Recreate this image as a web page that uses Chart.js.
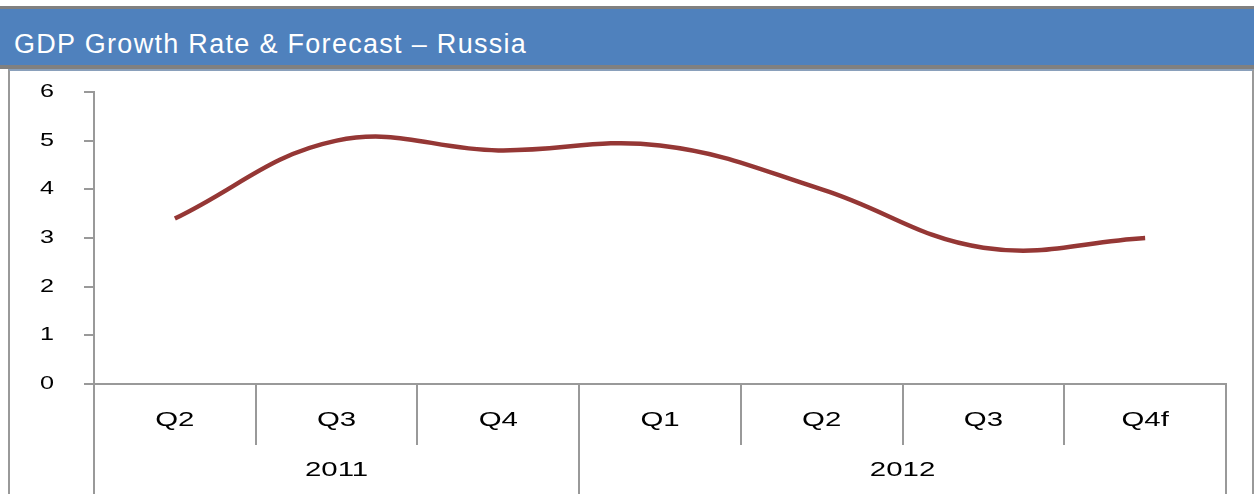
<!DOCTYPE html>
<html>
<head>
<meta charset="utf-8">
<script src="https://cdn.jsdelivr.net/npm/chart.js@4/dist/chart.umd.min.js"></script>
<style>
  body { margin: 0; background: #fff; font-family: "Liberation Sans", Arial, sans-serif; }
  #banner {
    position: absolute; left: 0; top: 6px; width: 1240px; height: 42px;
    background: #4f81bd; border-top: 3px solid #808080; border-bottom: 4px solid #808080;
    color: #fff; font-size: 27px; letter-spacing: 1.3px; line-height: 42px;
    padding: 14px 0 0 14px; box-sizing: content-box; white-space: nowrap;
  }
  #frame {
    position: absolute; left: 8px; top: 69px; width: 1242px; height: 430px;
    border-left: 2px solid #999; border-right: 2px solid #999; border-top: 2px solid #8aa0bb;
  }
  #wrap { position: absolute; left: 0; top: 0; width: 1242px; height: 423px; }
</style>
</head>
<body>
<div id="banner">GDP Growth Rate &amp; Forecast – Russia</div>
<div id="frame"><div id="wrap"><canvas id="chart"></canvas></div></div>
<script>
var quarters = ['Q2', 'Q3', 'Q4', 'Q1', 'Q2', 'Q3', 'Q4f'];
var years = ['2011', '2012'];
var quartersPerYear = [3, 4];
var gdpGrowth = [3.4, 5.0, 4.8, 4.9, 4.0, 2.8, 3.0];
var yTicks = [0, 1, 2, 3, 4, 5, 6];

var axisColor = '#999999';
var fontFamily = '"Liberation Sans", Arial, sans-serif';
var xFont = { family: fontFamily, size: 21 };
var yFont = { family: fontFamily, size: 18 };
var textStretch = 1.4;

// the labels in the original are drawn wide, so stretch every fillText sideways around its anchor
var wideText = {
    id: 'wideText',
    beforeInit: function(chart) {
        var ctx = chart.ctx;
        var fill = ctx.fillText;
        ctx.fillText = function(text, x, y) {
            this.save();
            this.translate(x, y);
            this.scale(textStretch, 1);
            fill.call(this, text, 0, 0);
            this.restore();
        };
    }
};

// draws the quarter dividers and the year row under the x axis
var yearRows = {
    id: 'yearRows',
    afterDraw: function(chart) {
        var ctx = chart.ctx;
        var x = chart.scales.x;
        var step = x.getPixelForValue(1) - x.getPixelForValue(0);
        var top = chart.chartArea.bottom;
        ctx.save();
        ctx.strokeStyle = axisColor;
        ctx.lineWidth = 2;
        var i;
        for (i = 0; i <= quarters.length; i++) {
            var px = Math.round(x.getPixelForValue(i) - step / 2);
            ctx.beginPath();
            ctx.moveTo(px, top);
            ctx.lineTo(px, top + 61);
            ctx.stroke();
        }
        var start = 0;
        ctx.fillStyle = '#000';
        ctx.font = xFont.size + 'px ' + xFont.family;
        ctx.textAlign = 'center';
        ctx.textBaseline = 'middle';
        for (i = 0; i < years.length; i++) {
            var end = start + quartersPerYear[i];
            var left = x.getPixelForValue(start) - step / 2;
            var right = x.getPixelForValue(end - 1) + step / 2;
            [left, right].forEach(function(px) {
                ctx.beginPath();
                ctx.moveTo(Math.round(px), top + 61);
                ctx.lineTo(Math.round(px), top + 110);
                ctx.stroke();
            });
            ctx.fillText(years[i], (left + right) / 2, top + 86);
            start = end;
        }
        ctx.restore();
    }
};

new Chart(document.getElementById('chart').getContext('2d'), {
    type: 'line',
    data: {
        labels: quarters,
        datasets: [{
            label: 'GDP growth',
            data: gdpGrowth,
            borderColor: '#953735',
            borderWidth: 4.5,
            pointRadius: 0,
            tension: 0.4,
            fill: false
        }]
    },
    options: {
        responsive: true,
        maintainAspectRatio: false,
        animation: false,
        layout: { autoPadding: false, padding: { top: 21, right: 26, left: 0, bottom: 0 } },
        plugins: { legend: { display: false }, tooltip: { enabled: false } },
        scales: {
            x: {
                offset: true,
                grid: { display: false },
                border: { display: true, color: axisColor, width: 2 },
                ticks: {
                    color: '#000',
                    padding: 16,
                    maxRotation: 0,
                    font: xFont
                },
                afterFit: function(s) { s.height = 110; s.paddingLeft = 0; s.paddingRight = 0; }
            },
            y: {
                min: 0,
                max: 6,
                afterBuildTicks: function(s) { s.ticks = yTicks.map(function(v) { return { value: v }; }); },
                grid: { drawOnChartArea: false, color: axisColor, lineWidth: 2, tickLength: 10 },
                border: { display: true, color: axisColor, width: 2 },
                ticks: {
                    color: '#000',
                    padding: 30,
                    font: yFont
                },
                afterFit: function(s) { s.width = 84; s.paddingTop = 0; s.paddingBottom = 0; }
            }
        }
    },
    plugins: [wideText, yearRows]
});
</script>
</body>
</html>
